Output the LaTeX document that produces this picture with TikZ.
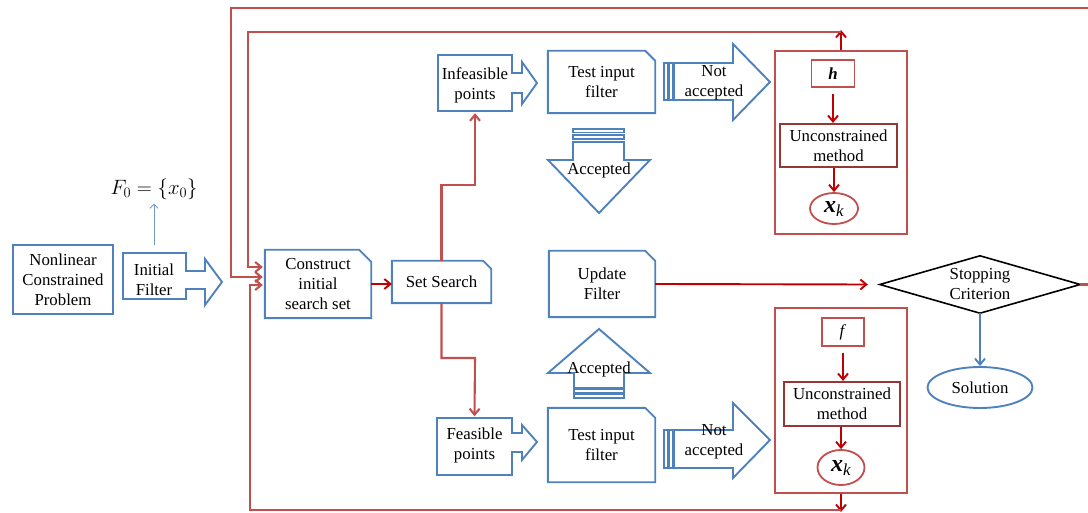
\documentclass[tikz,border=0pt]{standalone}
\usepackage{fontspec}
\setmainfont{Liberation Serif}
\usetikzlibrary{arrows.meta,calc,shapes.geometric}
\definecolor{bblue}{RGB}{79,129,189}
\definecolor{lred}{RGB}{192,80,77}
\definecolor{dred}{RGB}{192,0,0}
\definecolor{mred}{RGB}{149,55,53}
\newcommand\snipbox[2]{\draw[bl] (#1.south west) -- (#1.north west) -- ([xshift=-#2pt]#1.north east) -- ([yshift=-#2pt]#1.north east) -- (#1.south east) -- cycle;}
\begin{document}
\begin{tikzpicture}[x=1pt,y=-1pt,
 every node/.style={font=\fontsize{16.8}{20}\selectfont, align=center, inner sep=0pt},
 bl/.style={draw=bblue, line width=1.9pt},
 blbox/.style={bl, rectangle},
 lr/.style={draw=lred, line width=2.1pt},
 dr/.style={draw=dred, line width=1.9pt},
 tip/.style={-{Straight Barb[length=6pt,width=10pt]}},
 ghost/.style={rectangle, draw=none},
 redbox/.style={rectangle, draw=lred, line width=1.9pt},
 innerbox/.style={rectangle, draw=lred, line width=1.8pt},
 umbox/.style={rectangle, draw=mred, line width=2.1pt},
 xkell/.style={ellipse, draw=lred, line width=1.8pt},
]
\useasboundingbox (0,0) rectangle (1088,513);

% left part
\node[blbox, minimum width=100pt, minimum height=69pt] (ncp) at (63,279.5) {Nonlinear\\Constrained\\Problem};
\node[ghost, minimum width=63pt, minimum height=46pt] (initf) at (154,280) {Initial\\Filter};
\draw[bl] (123,253) -- (186,253) -- (186,271) -- (205,271) -- (205,259) -- (222,282) -- (205,305) -- (205,289) -- (186,289) -- (186,299) -- (123,299) -- cycle;
\node (f0) at (154,189) {\fontsize{22}{22}\selectfont $F_0=\left\{x_0\right\}$};
\draw[draw=bblue!80, line width=1pt, -{Straight Barb[length=4pt,width=8pt]}] ([yshift=12pt]initf.north) -- ([yshift=-4pt]f0.south);

% construct and set search
\node[ghost, minimum width=106pt, minimum height=68pt] (cons) at (318,284) {Construct\\initial\\search set};
\snipbox{cons}{12}
\node[ghost, minimum width=99pt, minimum height=42pt] (ss) at (441.5,282) {Set Search};
\snipbox{ss}{8}
\draw[dr,tip] (cons.east) -- (cons.east -| ss.west);

% infeasible branch
\node[ghost, minimum width=74pt, minimum height=56pt] (inf) at (475,85) {Infeasible\\points};
\draw[bl] (438,55) -- (512,55) -- (512,73) -- (522,73) -- (522,62) -- (537,83) -- (522,104) -- (522,93) -- (512,93) -- (512,111) -- (438,111) -- cycle;
\node[ghost, minimum width=107pt, minimum height=62pt] (t1) at (601.5,82) {Test input\\filter};
\snipbox{t1}{10}
\draw[bl] (664,63) rectangle (668,100);
\draw[bl] (669.5,63) rectangle (673,100);
\draw[bl] (674,63) -- (733,63) -- (733,44) -- (770,82) -- (733,120) -- (733,100) -- (674,100) -- cycle;
\node (na1) at (714,83) {Not\\accepted};
\draw[bl] (573,129) rectangle (624,132.5);
\draw[bl] (573,135) rectangle (624,139);
\draw[bl] (573,142) -- (624,142) -- (624,160) -- (650,160) -- (599,213) -- (548,160) -- (573,160) -- cycle;
\node (ac1) at (599,170) {Accepted};

% feasible branch
\node[ghost, minimum width=75pt, minimum height=57pt] (feas) at (474.5,445) {Feasible\\points};
\draw[bl] (437,418) -- (512,418) -- (512,433) -- (522,433) -- (522,425) -- (537,442) -- (522,460) -- (522,452) -- (512,452) -- (512,475) -- (437,475) -- cycle;
\node[ghost, minimum width=107pt, minimum height=74pt] (t2) at (601.5,445) {Test input\\filter};
\snipbox{t2}{10}
\draw[bl] (664,430) rectangle (668,468);
\draw[bl] (669.5,430) rectangle (673,468);
\draw[bl] (674,430) -- (733,430) -- (733,403) -- (770,440) -- (733,478) -- (733,468) -- (674,468) -- cycle;
\node (na2) at (714,442) {Not\\accepted};
\draw[bl] (574,389.5) rectangle (624,393);
\draw[bl] (574,394.5) rectangle (624,398);
\draw[bl] (574,388) -- (574,373) -- (548,373) -- (599,329) -- (650,373) -- (624,373) -- (624,388) -- cycle;
\node (ac2) at (599,369) {Accepted};

% set search connectors
\draw[lr,tip] (ss.north) |- (475,185) -- (inf.south);
\draw[lr,tip] (ss.south) |- (475,358) -- (feas.north);

% update filter and stopping
\node[ghost, minimum width=106pt, minimum height=66pt] (upd) at (602,284) {Update\\Filter};
\snipbox{upd}{10}
\node[ghost, minimum width=200pt, minimum height=57pt] (stop) at (980,284.5) {Stopping\\Criterion};
\draw[black, line width=1.6pt] (stop.west) -- (stop.north) -- (stop.east) -- (stop.south) -- cycle;
\draw[dr,tip] (upd.east) -- ([xshift=-12pt]stop.west);
\node[ellipse, bl, minimum width=105pt, minimum height=41pt] (sol) at (980,387.5) {Solution};
\draw[bl,tip] (stop.south) -- (sol.north);
\coordinate (redge2) at (1088,284.5);
\draw[lr] (stop.east) -- (redge2);

% upper red box
\node[redbox, minimum width=132pt, minimum height=183pt] (rb1) at (841,142.5) {};
\node[innerbox, minimum width=43pt, minimum height=27pt] (hb) at (833,73.5) {\textbf{\textit{h}}};
\node[umbox, minimum width=117pt, minimum height=43pt] (um1) at (838.5,145.5) {Unconstrained\\method};
\node[xkell, minimum width=48pt, minimum height=31pt] (xk1) at (834,208.5) {\textbf{\textit{\fontsize{24}{24}\selectfont x}}\raisebox{-4pt}{\textit{k}}};
\draw[dr,tip] ([yshift=-6pt]hb.south) -- (hb.south |- um1.north);
\draw[dr,tip] (um1.south -| xk1.north) -- (xk1.north);

% lower red box
\node[redbox, minimum width=132pt, minimum height=185pt] (rb2) at (841,400.5) {};
\node[innerbox, minimum width=42pt, minimum height=28pt] (fb) at (843,332) {\textit{f}};
\node[umbox, minimum width=116pt, minimum height=44pt] (um2) at (842,404) {Unconstrained\\method};
\node[xkell, minimum width=47pt, minimum height=35pt] (xk2) at (841,467.5) {\textbf{\textit{\fontsize{24}{24}\selectfont x}}\raisebox{-4pt}{\textit{k}}};
\draw[dr,tip] ([yshift=-6pt]fb.south) -- (fb.south |- um2.north);
\draw[dr,tip] (um2.south -| xk2.north) -- (xk2.north);

% feedback loops
\coordinate (redge1) at (1088,8);
\draw[lr,tip] (redge1) -| (231,277) -- ([xshift=-2pt,yshift=7pt]cons.west);
\draw[dr,tip] (rb1.north) -- ++(0,-20);
\draw[lr,tip] ([yshift=18pt]rb1.north) -| (248,267) -- ([xshift=-2pt,yshift=17pt]cons.west);
\draw[dr,tip] (rb2.south) -- ++(0,18);
\draw[lr,tip] ([yshift=-16pt]rb2.south) -| (250,285) -- ([xshift=-2pt,yshift=-1pt]cons.west);
\end{tikzpicture}
\end{document}
